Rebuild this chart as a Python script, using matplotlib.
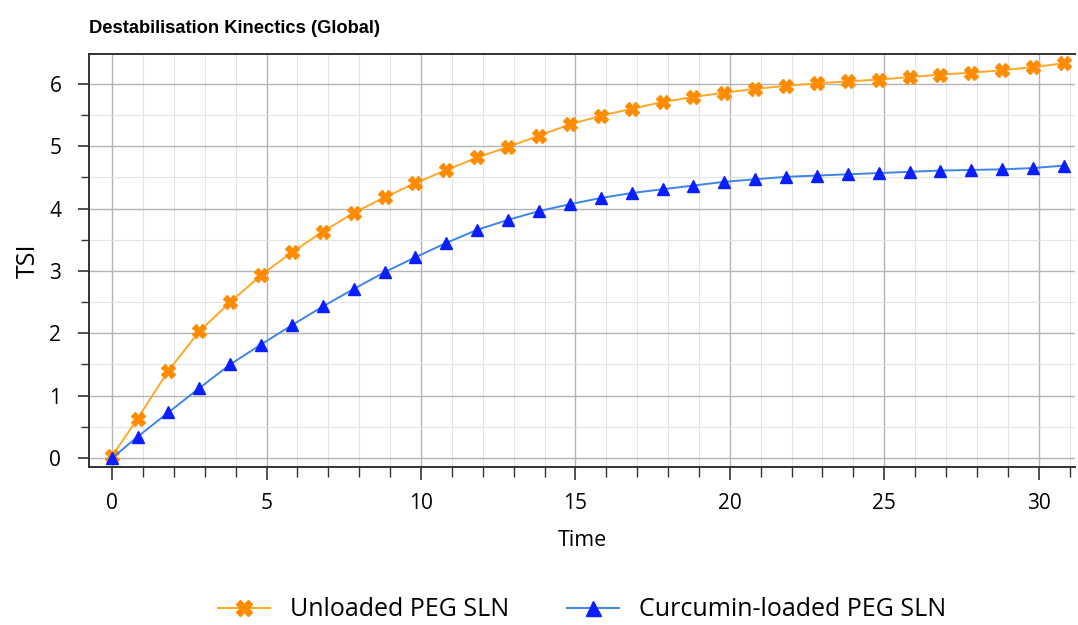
import numpy as np
import matplotlib
matplotlib.use("Agg")
import matplotlib.pyplot as plt
from matplotlib.ticker import MultipleLocator

# sample times (points sit a little before each whole unit)
time = [0, 0.82, 1.82, 2.82, 3.82, 4.82, 5.82, 6.82, 7.82, 8.82, 9.82,
        10.82, 11.82, 12.82, 13.82, 14.82, 15.82, 16.82, 17.82, 18.82, 19.82,
        20.82, 21.82, 22.82, 23.82, 24.82, 25.82, 26.82, 27.82, 28.82, 29.82, 30.82]

tsi_unloaded = [0.03, 0.63, 1.40, 2.03, 2.50, 2.93, 3.30, 3.63, 3.93, 4.18, 4.41,
                4.62, 4.82, 4.99, 5.17, 5.35, 5.49, 5.60, 5.71, 5.79, 5.86,
                5.92, 5.97, 6.01, 6.04, 6.07, 6.11, 6.15, 6.18, 6.22, 6.27, 6.33]

tsi_curcumin = [0.0, 0.34, 0.73, 1.12, 1.50, 1.82, 2.13, 2.43, 2.71, 2.98, 3.22,
                3.45, 3.66, 3.82, 3.96, 4.07, 4.17, 4.25, 4.31, 4.37, 4.43,
                4.47, 4.51, 4.53, 4.55, 4.57, 4.59, 4.61, 4.62, 4.63, 4.65, 4.69]

labels = ["Unloaded PEG SLN", "Curcumin-loaded PEG SLN"]

plt.rcParams['font.family'] = ['Open Sans', 'DejaVu Sans']

fig = plt.figure(figsize=(10.78, 6.25), dpi=100)
ax = fig.add_axes([0.0826, 0.2528, 0.9144, 0.6608])

ax.plot(time, tsi_unloaded, color='#ffa726', lw=1.4, marker='X', ms=10,
        mfc='#ff8c00', mec='#ff8c00', label=labels[0], zorder=3)
ax.plot(time, tsi_curcumin, color='#3d85e8', lw=1.4, marker='^', ms=9,
        mfc='#0a1eff', mec='#0a1eff', label=labels[1], zorder=3)

ax.set_xlim(-0.75, 31.17)
ax.set_ylim(-0.145, 6.48)
ax.xaxis.set_major_locator(MultipleLocator(5))
ax.xaxis.set_minor_locator(MultipleLocator(1))
ax.yaxis.set_major_locator(MultipleLocator(1))
ax.yaxis.set_minor_locator(MultipleLocator(0.5))

ax.grid(which='major', color='#b4b4b4', lw=1.0)
ax.grid(which='minor', color='#e4e4e4', lw=0.8)
ax.set_axisbelow(True)

ax.tick_params(which='major', direction='out', length=9, width=1.2, color='#333333',
               labelsize=15)
ax.tick_params(which='minor', direction='out', length=7, width=1.0, color='#333333')
ax.tick_params(axis='x', which='major', pad=10)
ax.tick_params(axis='y', which='major', length=8, pad=12)
ax.tick_params(axis='y', which='minor', length=6)

for side in ['left', 'bottom', 'top']:
    ax.spines[side].set_color('#333333')
    ax.spines[side].set_linewidth(1.4)
ax.spines['right'].set_visible(False)

ax.set_xlabel("Time", fontsize=15.5, labelpad=11)
ax.set_ylabel("TSI", fontsize=18, labelpad=6)

fig.text(0.0826, 0.955, "Destabilisation Kinectics (Global)", fontsize=13.2,
         fontweight='bold', family='Liberation Sans', ha='left', va='center')

fig.legend(loc='center', bbox_to_anchor=(0.54, 0.024), ncol=2, frameon=False,
           fontsize=18, handlelength=2.1, handletextpad=0.8, columnspacing=2.3,
           markerscale=1.2)

fig.savefig("out.png", dpi=100)
